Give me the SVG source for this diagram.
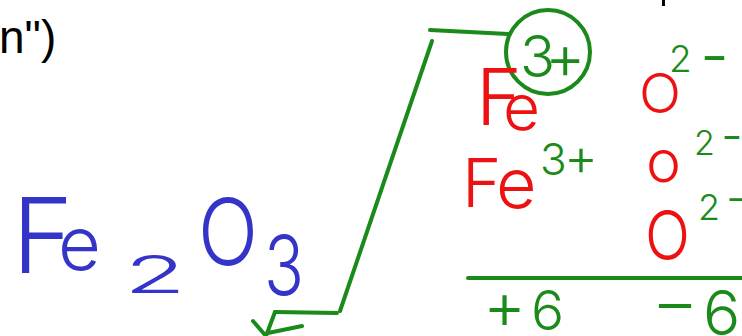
<svg xmlns="http://www.w3.org/2000/svg" width="742" height="336" viewBox="0 0 742 336">
<style>
.hw{font-family:"Inter","Noto Sans",sans-serif;font-weight:300;stroke-linejoin:round}
.b{fill:#3434c8}
.r{fill:#ee1111}
.g{fill:#1a8a1a}
.ln{fill:none;stroke:#1a8a1a;stroke-width:4;stroke-linecap:round;stroke-linejoin:round}
</style>
<rect width="742" height="336" fill="#ffffff"/>
<g id="header">
<text x="-1" y="53" font-family="Liberation Sans, Arial, sans-serif" font-size="46" fill="#000">n")</text>
<rect x="662" y="0" width="3" height="6" fill="#000"/>
</g>
<g id="formula" class="hw b">
<text y="273"><tspan x="12" font-size="104">F</tspan><tspan x="58" y="270" font-size="74">e</tspan></text>
<text x="124" y="293" font-size="52" textLength="62" lengthAdjust="spacingAndGlyphs">2</text>
<text x="198" y="265" font-size="92" textLength="60" lengthAdjust="spacingAndGlyphs">O</text>
<text x="264" y="295" font-size="82" textLength="40" lengthAdjust="spacingAndGlyphs">3</text>
</g>
<g id="connectors">
<path class="ln" d="M430,30 L508,34"/>
<circle class="ln" cx="548" cy="52" r="42" stroke-width="3"/>
<path class="ln" d="M432,41 L340,311"/>
<path class="ln" d="M337,313 L275,312"/>
<path class="ln" d="M275,312 L266,336 M253,321 L266,336 M268,333 L302,326"/>
<path class="ln" d="M468,278 L742,278"/>
</g>
<g id="row1" class="hw">
<text class="r" y="125"><tspan x="476" font-size="78">F</tspan><tspan x="503" y="130" font-size="64">e</tspan></text>
<text class="g" y="77"><tspan x="520" font-size="58">3</tspan><tspan x="545" y="79" font-size="62">+</tspan></text>
<text class="r" x="639" y="113" font-size="55" textLength="42" lengthAdjust="spacingAndGlyphs">O</text>
<text class="g" y="72"><tspan x="669" font-size="37">2</tspan><tspan x="700" y="78" font-size="64">-</tspan></text>
</g>
<g id="row2" class="hw">
<text class="r" y="207"><tspan x="462" font-size="67">F</tspan><tspan x="496" y="208" font-size="70">e</tspan></text>
<text class="g" y="175"><tspan x="540" font-size="44">3</tspan><tspan x="564" font-size="52">+</tspan></text>
<text class="r" x="646" y="182" font-size="59">o</text>
<text class="g" y="155"><tspan x="694" font-size="34">2</tspan><tspan x="721" y="152" font-size="48">-</tspan></text>
</g>
<g id="row3" class="hw">
<text class="g" y="220"><tspan x="698" font-size="36">2</tspan><tspan x="726" y="214" font-size="46">-</tspan></text>
<text class="r" x="645" y="260" font-size="69" textLength="45" lengthAdjust="spacingAndGlyphs">O</text>
</g>
<g id="totals" class="hw">
<text class="g" y="329"><tspan x="483" font-size="66">+</tspan><tspan x="531" y="330" font-size="55">6</tspan></text>
<text class="g" x="651" y="327" font-size="66" textLength="48" lengthAdjust="spacingAndGlyphs">-</text>
<text class="g" x="703" y="335" font-size="62">6</text>
</g>
</svg>
